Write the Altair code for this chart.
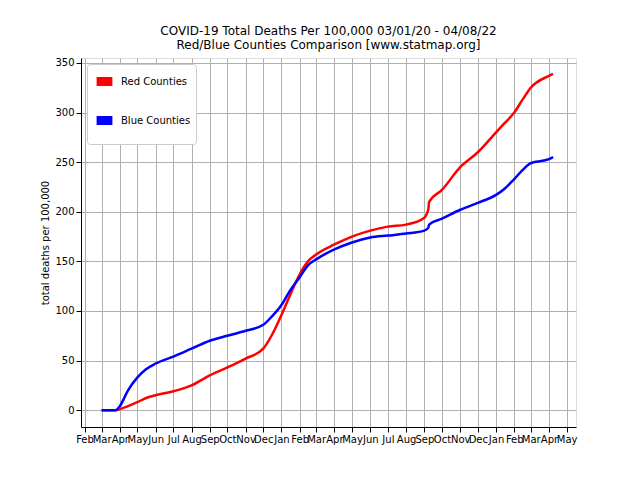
import altair as alt
import pandas as pd

dates = ["2020-03-01","2020-03-25","2020-04-01","2020-04-15","2020-05-01","2020-05-15","2020-06-01","2020-07-01","2020-08-01","2020-09-01",
         "2020-10-01","2020-11-01","2020-12-01","2020-12-15","2021-01-01","2021-01-15","2021-02-01","2021-02-15","2021-03-01","2021-04-01",
         "2021-05-01","2021-06-01","2021-07-01","2021-08-01","2021-09-01","2021-09-08","2021-09-09",
         "2021-10-01","2021-11-01","2021-12-01","2022-01-01","2022-01-15","2022-02-01","2022-02-15","2022-03-01","2022-04-01","2022-04-08"]
red = [0,0,1,4,8,12,15,19,25,35,43,52,62,75,96,115,137,150,157,167,175,181,185,187,194,203,210,222,245,260,280,289,300,313,325,337,339]
blue = [0,0,4,20,33,41,47,54,62,70,75,80,86,94,106,120,134,146,152,162,169,174,176,178,181,184,187,193,202,209,217,223,233,242,249,253,255]

rows = []
for d, r, b in zip(dates, red, blue):
    rows.append({"date": d, "value": r, "series": "Red Counties"})
    rows.append({"date": d, "value": b, "series": "Blue Counties"})
df = pd.DataFrame(rows)

ticks = []
y, m = 2020, 2
while (y, m) <= (2022, 5):
    ticks.append(alt.DateTime(year=y, month=m, date=1))
    m += 1
    if m > 12:
        m = 1; y += 1

chart = alt.Chart(df).mark_line(strokeWidth=2.5, interpolate="monotone").encode(
    x=alt.X("date:T", scale=alt.Scale(domain=[alt.DateTime(year=2020, month=1, date=26),
                                              alt.DateTime(year=2022, month=5, date=17)]),
            axis=alt.Axis(values=ticks, format="%b", title=None, labelAngle=0, grid=True,
                          labelOverlap=False, labelFontSize=10,
                          gridColor="#b0b0b0", labelColor="black",
                          domainColor="black", tickColor="black")),
    y=alt.Y("value:Q", scale=alt.Scale(domain=[-17, 355], nice=False, zero=False),
            axis=alt.Axis(values=list(range(0, 351, 50)), title="total deaths per 100,000",
                          titleFontWeight="normal", titleFontSize=10, labelFontSize=10,
                          gridColor="#b0b0b0", labelColor="black", domainColor="black", tickColor="black")),
    color=alt.Color("series:N", scale=alt.Scale(domain=["Red Counties", "Blue Counties"], range=["#ff0000", "#0000ff"]),
                    legend=alt.Legend(title=None, orient="none", legendX=6, legendY=6,
                                      symbolType="stroke", symbolSize=250, symbolStrokeWidth=9,
                                      labelFontSize=10, fillColor="white",
                                      strokeColor="#cccccc", padding=5, cornerRadius=3)),
).properties(
    width=495, height=369,
    title=alt.Title(["COVID-19 Total Deaths Per 100,000 03/01/20 - 04/08/22",
                     "Red/Blue Counties Comparison [www.statmap.org]"],
                    fontSize=12, fontWeight="normal", offset=6),
    autosize=alt.AutoSizeParams(type="none"),
    padding={"left": 73, "top": 50, "right": 56, "bottom": 45},
).configure_view(stroke="black").configure(font="DejaVu Sans")

chart.save("out.html", embed_options={"renderer": "svg", "actions": False})
